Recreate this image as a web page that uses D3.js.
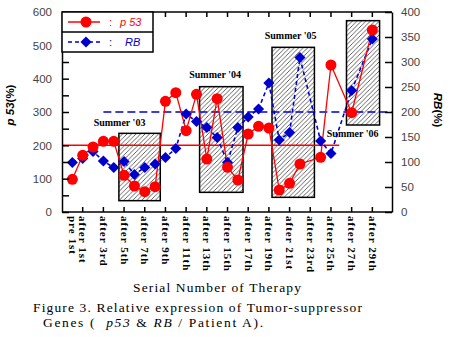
<!DOCTYPE html>
<html lang="en">
<head>
<meta charset="UTF-8">
<title>Relative expression of Tumor-suppressor Genes</title>
<script src="https://d3js.org/d3.v7.min.js"></script>
<style>
  body { margin: 0; background: #fff; }
  svg { display: block; }
  .num { font-family: "Liberation Sans", Arial, sans-serif; font-size: 11.5px; fill: #444; }
  .serif { font-family: "Liberation Serif", "Times New Roman", serif; fill: #000; }
</style>
</head>
<body>
<svg id="chart"></svg>
<script>
// treatment points (x categories)
const categories = [
  "pre 1st", "after 1st", "after 2nd", "after 3rd", "after 4th", "after 5th",
  "after 6th", "after 7th", "after 8th", "after 9th", "after 10th", "after 11th",
  "after 12th", "after 13th", "after 14th", "after 15th", "after 16th", "after 17th",
  "after 18th", "after 19th", "after 20th", "after 21st", "after 22nd", "after 23rd",
  "after 24th", "after 25th", "after 26th", "after 27th", "after 28th", "after 29th"
];
// which categories get a label on the x axis
const labelled = [
  "pre 1st", "after 1st", "after 3rd", "after 5th", "after 7th", "after 9th",
  "after 11th", "after 13th", "after 15th", "after 17th", "after 19th", "after 21st",
  "after 23rd", "after 25th", "after 27th", "after 29th"
];
// p53 (%) on left axis, RB (%) on right axis; null = not measured
const p53 = [98, 170, 195, 212, 212, 110, 78, 61, 76, 332, 358, 244, 353, 159, 340,
             134, 96, 234, 257, 252, 66, 86, 144, null, 164, 441, null, 298, null, 546];
const rb  = [99, 107, 121, 102, 89, 101, 75, 89, 96, 109, 127, 196, 181, 169, 149,
             99, 169, 190, 206, 258, 144, 159, 309, null, 142, 117, null, 243, null, 346];

const leftTicks = [0, 100, 200, 300, 400, 500, 600];
const rightTicks = [0, 50, 100, 150, 200, 250, 300, 350, 400];

// summer periods (x in treatment index, y in p53 units)
const summerNames = ["Summer '03", "Summer '04", "Summer '05", "Summer '06"];
const summerFrom = [4.5, 12.3, 19.3, 26.5];
const summerTo   = [8.5, 16.5, 23.4, 29.7];
const summerLow  = [34, 59, 44, 261];
const summerHigh = [236, 376, 494, 574];

// reference levels
const p53Ref = 200;   // left axis
const rbRef = 200;    // right axis

const W = 450, H = 337;
const m = { left: 62, right: 392, top: 12, bottom: 212 };

const svg = d3.select("#chart").attr("width", W).attr("height", H);

const x = d3.scaleLinear().domain([-1, 30.9]).range([m.left, m.right]);
const yL = d3.scaleLinear().domain([0, 600]).range([m.bottom, m.top]);
const yR = d3.scaleLinear().domain([0, 400]).range([m.bottom, m.top]);

// hatch pattern for the summer boxes
const defs = svg.append("defs");
defs.append("pattern")
  .attr("id", "hatch")
  .attr("patternUnits", "userSpaceOnUse")
  .attr("width", 4.5).attr("height", 4.5)
  .append("path")
  .attr("d", "M-1,1 l2,-2 M0,4.5 l4.5,-4.5 M3.5,5.5 l2,-2")
  .attr("stroke", "#222")
  .attr("stroke-width", 0.7);

// summer boxes
const boxes = svg.append("g");
summerNames.forEach((name, i) => {
  boxes.append("rect")
    .attr("x", x(summerFrom[i]))
    .attr("y", yL(summerHigh[i]))
    .attr("width", x(summerTo[i]) - x(summerFrom[i]))
    .attr("height", yL(summerLow[i]) - yL(summerHigh[i]))
    .attr("fill", "#fff");
  boxes.append("rect")
    .attr("x", x(summerFrom[i]))
    .attr("y", yL(summerHigh[i]))
    .attr("width", x(summerTo[i]) - x(summerFrom[i]))
    .attr("height", yL(summerLow[i]) - yL(summerHigh[i]))
    .attr("fill", "url(#hatch)")
    .attr("stroke", "#000")
    .attr("stroke-width", 1.5);
});

// summer labels: [x index, p53 value] of each label's centre baseline
const labelAt = [[4.56, 258], [13.8, 402], [21.1, 519], [27.1, 225]];
summerNames.forEach((name, i) => {
  svg.append("text")
    .attr("class", "serif")
    .attr("x", x(labelAt[i][0]))
    .attr("y", yL(labelAt[i][1]))
    .attr("text-anchor", "middle")
    .attr("font-size", "10px")
    .attr("font-weight", "bold")
    .text(name);
});

// reference lines
svg.append("line")
  .attr("x1", x(-1)).attr("x2", x(25.8))
  .attr("y1", yL(p53Ref)).attr("y2", yL(p53Ref))
  .attr("stroke", "#ff0000").attr("stroke-width", 1.5);
svg.append("line")
  .attr("x1", x(3)).attr("x2", x(30.9))
  .attr("y1", yR(rbRef)).attr("y2", yR(rbRef))
  .attr("stroke", "#0000cc").attr("stroke-width", 1.5)
  .attr("stroke-dasharray", "8,4");

// series
const p53Pts = p53.map((v, i) => [i, v]).filter(d => d[1] !== null);
const rbPts = rb.map((v, i) => [i, v]).filter(d => d[1] !== null);

svg.append("path")
  .datum(rbPts)
  .attr("fill", "none")
  .attr("stroke", "#0000cc")
  .attr("stroke-width", 1.6)
  .attr("stroke-dasharray", "4,3")
  .attr("d", d3.line().x(d => x(d[0])).y(d => yR(d[1])));

svg.append("path")
  .datum(p53Pts)
  .attr("fill", "none")
  .attr("stroke", "#ff0000")
  .attr("stroke-width", 1.3)
  .attr("d", d3.line().x(d => x(d[0])).y(d => yL(d[1])));

const diamond = d3.symbol().type(d3.symbolSquare).size(62);

svg.append("g").selectAll("path")
  .data(rbPts)
  .join("path")
  .attr("d", diamond)
  .attr("transform", d => `translate(${x(d[0])},${yR(d[1])}) rotate(45)`)
  .attr("fill", "#0000cc");

svg.append("g").selectAll("circle")
  .data(p53Pts)
  .join("circle")
  .attr("cx", d => x(d[0]))
  .attr("cy", d => yL(d[1]))
  .attr("r", 5.5)
  .attr("fill", "#ff0000");

// frame: top and bottom lines with ticks at labelled treatments
const tickIdx = categories.map((c, i) => i).filter(i => i % 2 === 1);
const frame = svg.append("g").attr("stroke", "#000").attr("stroke-width", 1.5);
frame.append("line").attr("x1", m.left).attr("x2", m.right).attr("y1", m.top).attr("y2", m.top);
frame.append("line").attr("x1", m.left).attr("x2", m.right).attr("y1", m.bottom).attr("y2", m.bottom);
tickIdx.forEach(i => {
  frame.append("line").attr("x1", x(i)).attr("x2", x(i)).attr("y1", m.top).attr("y2", m.top + 5);
  frame.append("line").attr("x1", x(i)).attr("x2", x(i)).attr("y1", m.bottom).attr("y2", m.bottom - 5);
});

// left axis (ticks every 50, labels every 100)
const leftAxis = d3.axisLeft(yL)
  .tickValues(d3.range(0, 601, 50))
  .tickSizeInner(-7).tickSizeOuter(0)
  .tickFormat(d => leftTicks.includes(d) ? d : "");
const gl = svg.append("g").attr("transform", `translate(${m.left},0)`).call(leftAxis);
gl.select(".domain").attr("stroke-width", 1.5);
gl.selectAll(".tick line").attr("stroke-width", 1.5);
gl.selectAll(".tick text").attr("class", "num").attr("x", -10).attr("font-family", null).attr("font-size", null);

// right axis
const rightAxis = d3.axisRight(yR)
  .tickValues(rightTicks)
  .tickSizeInner(-7).tickSizeOuter(0);
const gr = svg.append("g").attr("transform", `translate(${m.right},0)`).call(rightAxis);
gr.select(".domain").attr("stroke-width", 1.5);
gr.selectAll(".tick line").attr("stroke-width", 1.5);
gr.selectAll(".tick text").attr("class", "num").attr("x", 9).attr("font-family", null).attr("font-size", null);

// x labels, rotated
svg.append("g").selectAll("text")
  .data(labelled)
  .join("text")
  .attr("font-family", "'Liberation Serif', serif")
  .attr("font-weight", "bold")
  .attr("font-size", "11px")
  .attr("letter-spacing", "1px")
  .attr("transform", d => `translate(${x(categories.indexOf(d))},216) rotate(90)`)
  .attr("dy", "0.32em")
  .text(d => d);

// legend
const lg = svg.append("g");
lg.append("rect").attr("x", m.left).attr("y", m.top).attr("width", 91).attr("height", 40)
  .attr("fill", "#fff").attr("stroke", "#000").attr("stroke-width", 1.5);
lg.append("line").attr("x1", m.left).attr("x2", m.left + 91).attr("y1", 32).attr("y2", 32)
  .attr("stroke", "#000").attr("stroke-width", 1.5);
lg.append("line").attr("x1", 68).attr("x2", 100).attr("y1", 22).attr("y2", 22)
  .attr("stroke", "#ff0000").attr("stroke-width", 1.5);
lg.append("circle").attr("cx", 86).attr("cy", 22).attr("r", 5.5).attr("fill", "#ff0000");
lg.append("line").attr("x1", 68).attr("x2", 103).attr("y1", 42).attr("y2", 42)
  .attr("stroke", "#0000cc").attr("stroke-width", 1.5).attr("stroke-dasharray", "4,3");
lg.append("path").attr("d", diamond).attr("transform", "translate(86,42) rotate(45)").attr("fill", "#0000cc");
lg.append("text").attr("x", 109).attr("y", 26).attr("fill", "#ff0000")
  .attr("font-family", "'Liberation Sans', Arial, sans-serif").attr("font-size", "11px")
  .text(":");
lg.append("text").attr("x", 120).attr("y", 26).attr("fill", "#ff0000")
  .attr("font-family", "'Liberation Sans', Arial, sans-serif").attr("font-size", "11px")
  .attr("font-style", "italic").text("p 53");
lg.append("text").attr("x", 109).attr("y", 46).attr("fill", "#0000cc")
  .attr("font-family", "'Liberation Sans', Arial, sans-serif").attr("font-size", "11px")
  .text(":");
lg.append("text").attr("x", 125).attr("y", 46).attr("fill", "#0000cc")
  .attr("font-family", "'Liberation Sans', Arial, sans-serif").attr("font-size", "11px")
  .attr("font-style", "italic").text("RB");

// axis titles
const lt = svg.append("text")
  .attr("transform", "translate(14,105) rotate(-90)")
  .attr("text-anchor", "middle")
  .attr("font-family", "'Liberation Sans', Arial, sans-serif")
  .attr("font-size", "11.5px").attr("font-weight", "bold");
lt.append("tspan").attr("font-style", "italic").text("p 53");
lt.append("tspan").text("(%)");

const rt = svg.append("text")
  .attr("transform", "translate(434,110) rotate(90)")
  .attr("text-anchor", "middle")
  .attr("font-family", "'Liberation Sans', Arial, sans-serif")
  .attr("font-size", "11.5px").attr("font-weight", "bold");
rt.append("tspan").attr("font-style", "italic").text("RB");
rt.append("tspan").text("(%)");

svg.append("text").attr("class", "serif")
  .attr("x", 133).attr("y", 292)
  .attr("font-size", "13.5px")
  .attr("textLength", 168).attr("lengthAdjust", "spacing")
  .text("Serial Number of Therapy");

// caption
svg.append("text").attr("class", "serif")
  .attr("x", 33).attr("y", 312)
  .attr("font-size", "13.5px")
  .attr("textLength", 329).attr("lengthAdjust", "spacing")
  .text("Figure 3.  Relative expression of Tumor-suppressor");

const cap2 = svg.append("text").attr("class", "serif")
  .attr("x", 43).attr("y", 327)
  .attr("font-size", "13.5px")
  .attr("textLength", 220).attr("lengthAdjust", "spacing")
  .attr("xml:space", "preserve");
cap2.append("tspan").text("Genes (  ");
cap2.append("tspan").attr("font-style", "italic").text("p53");
cap2.append("tspan").text(" & ");
cap2.append("tspan").attr("font-style", "italic").text("RB");
cap2.append("tspan").text(" / Patient A).");
</script>
</body>
</html>
